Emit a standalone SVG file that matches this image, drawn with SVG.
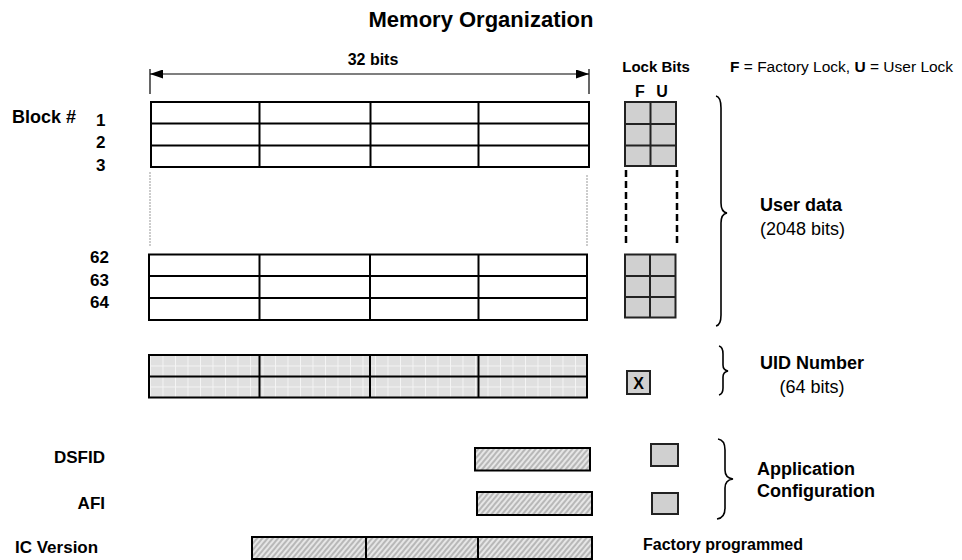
<svg xmlns="http://www.w3.org/2000/svg" width="962" height="560" viewBox="0 0 962 560">
<style>
text{font-family:"Liberation Sans",Arial,sans-serif;fill:#000}
.b{font-weight:bold}
.cell{fill:#fff;stroke:#000;stroke-width:2}
.uid{fill:url(#dots);stroke:#000;stroke-width:2}
.hat{fill:url(#hatch);stroke:#000;stroke-width:2}
.lock{fill:#d0d0d0;stroke:#222;stroke-width:2}
.brace{fill:none;stroke:#000;stroke-width:1.6}
.dot{stroke:#999;stroke-width:1;stroke-dasharray:2 1}
.dash{stroke:#000;stroke-width:2.5;stroke-dasharray:7 4}
</style>
<defs>
<pattern id="hatch" patternUnits="userSpaceOnUse" width="4" height="4" patternTransform="rotate(40)">
<rect width="4" height="4" fill="#b8b8b8"/>
<line x1="1" y1="0" x2="1" y2="4" stroke="#f2f2f2" stroke-width="1.6"/>
</pattern>
<pattern id="dots" patternUnits="userSpaceOnUse" width="12.5" height="10.5" x="150" y="355">
<rect width="12.5" height="10.5" fill="#e0e0e0"/>
<path d="M0 0.5H12.5M0.5 0V10.5" stroke="#f4f4f4" stroke-width="1"/>
</pattern>
<marker id="ah" viewBox="0 0 13 9" refX="13" refY="4.5" markerWidth="13" markerHeight="9" markerUnits="userSpaceOnUse" orient="auto-start-reverse">
<path d="M0 0L13 4.5L0 9Z" fill="#000"/>
</marker>
</defs>

<text x="481" y="27" text-anchor="middle" class="b" font-size="22">Memory Organization</text>

<g id="connectors">
<line x1="150" y1="74" x2="589" y2="74" stroke="#000" stroke-width="1.2" marker-start="url(#ah)" marker-end="url(#ah)"/>
<line x1="150" y1="69" x2="150" y2="94" stroke="#000" stroke-width="1.2"/>
<line x1="589" y1="69" x2="589" y2="94" stroke="#000" stroke-width="1.2"/>
<line class="dot" x1="150" y1="172" x2="150" y2="247"/>
<line class="dot" x1="587" y1="175" x2="587" y2="247"/>
<line class="dash" x1="626" y1="170" x2="626" y2="245"/>
<line class="dash" x1="677" y1="170" x2="677" y2="245"/>
</g>

<text x="373" y="65" text-anchor="middle" class="b" font-size="16">32 bits</text>

<g id="block-labels">
<text x="12" y="123" class="b" font-size="18">Block #</text>
<text x="96" y="126" class="b" font-size="17">1</text>
<text x="96" y="148" class="b" font-size="17">2</text>
<text x="96" y="171" class="b" font-size="17">3</text>
<text x="90" y="263" class="b" font-size="17">62</text>
<text x="90" y="286" class="b" font-size="17">63</text>
<text x="90" y="308" class="b" font-size="17">64</text>
</g>

<g id="user-blocks-top">
<rect class="cell" x="151" y="102" width="438" height="65"/>
<line x1="151" y1="123.5" x2="589" y2="123.5" stroke="#000" stroke-width="2"/>
<line x1="151" y1="145.5" x2="589" y2="145.5" stroke="#000" stroke-width="2"/>
<line x1="259.5" y1="102" x2="259.5" y2="167" stroke="#000" stroke-width="2"/>
<line x1="370.5" y1="102" x2="370.5" y2="167" stroke="#000" stroke-width="2"/>
<line x1="478.5" y1="102" x2="478.5" y2="167" stroke="#000" stroke-width="2"/>
</g>

<g id="user-blocks-bottom">
<rect class="cell" x="149" y="254.5" width="438" height="65.5"/>
<line x1="149" y1="276" x2="587" y2="276" stroke="#000" stroke-width="2"/>
<line x1="149" y1="298" x2="587" y2="298" stroke="#000" stroke-width="2"/>
<line x1="259.5" y1="254.5" x2="259.5" y2="320" stroke="#000" stroke-width="2"/>
<line x1="370" y1="254.5" x2="370" y2="320" stroke="#000" stroke-width="2"/>
<line x1="478.5" y1="254.5" x2="478.5" y2="320" stroke="#000" stroke-width="2"/>
</g>

<g id="uid-blocks">
<rect class="uid" x="149" y="355" width="438" height="42.5"/>
<line x1="149" y1="376.5" x2="587" y2="376.5" stroke="#000" stroke-width="2"/>
<line x1="259.5" y1="355" x2="259.5" y2="397.5" stroke="#000" stroke-width="2"/>
<line x1="370" y1="355" x2="370" y2="397.5" stroke="#000" stroke-width="2"/>
<line x1="478.5" y1="355" x2="478.5" y2="397.5" stroke="#000" stroke-width="2"/>
</g>

<g id="lock-header">
<text x="656" y="72" text-anchor="middle" class="b" font-size="15">Lock Bits</text>
<text x="640" y="97" text-anchor="middle" class="b" font-size="16">F</text>
<text x="662" y="97" text-anchor="middle" class="b" font-size="16">U</text>
<text x="730" y="72" font-size="15.5"><tspan class="b">F</tspan> = Factory Lock, <tspan class="b">U</tspan> = User Lock</text>
</g>

<g id="lock-top">
<rect class="lock" x="625" y="102" width="51" height="64"/>
<path d="M625 124H676M625 145.5H676M650.5 102V166" stroke="#222" stroke-width="2"/>
</g>
<g id="lock-bottom">
<rect class="lock" x="625" y="254.5" width="50.5" height="63"/>
<path d="M625 276H675.5M625 297H675.5M650 254.5V317.5" stroke="#222" stroke-width="2"/>
</g>
<g id="lock-uid">
<rect class="lock" x="627" y="371" width="23" height="23"/>
<text x="638.5" y="389" text-anchor="middle" class="b" font-size="16">X</text>
</g>

<g id="user-data-brace">
<path class="brace" d="M716 96Q721 97 721 108L721 203Q721 212 727 213Q721 214 721 223L721 315Q721 325 716 326"/>
<text x="760" y="211" class="b" font-size="18">User data</text>
<text x="760" y="235" font-size="18">(2048 bits)</text>
</g>

<g id="uid-brace">
<path class="brace" d="M719 346Q723 347 723 354L723 365Q723 370 728 371Q723 372 723 377L723 388Q723 394 719 395"/>
<text x="812" y="369" text-anchor="middle" class="b" font-size="18">UID Number</text>
<text x="812" y="393" text-anchor="middle" font-size="18">(64 bits)</text>
</g>

<g id="dsfid">
<text x="105" y="463" text-anchor="end" class="b" font-size="17">DSFID</text>
<rect class="hat" x="475" y="448" width="115" height="22.5"/>
<rect class="lock" x="651" y="444" width="27" height="22"/>
</g>

<g id="afi">
<text x="105" y="509" text-anchor="end" class="b" font-size="17">AFI</text>
<rect class="hat" x="477" y="492" width="115" height="23"/>
<rect class="lock" x="652" y="493" width="26" height="21"/>
</g>

<g id="app-brace">
<path class="brace" d="M718 439Q725 440 725 450L725 470Q725 478 733 479Q725 480 725 488L725 508Q725 518 717 519"/>
<text x="757" y="475" class="b" font-size="18">Application</text>
<text x="757" y="497" class="b" font-size="18">Configuration</text>
</g>

<g id="ic-version">
<text x="15" y="553" class="b" font-size="17">IC Version</text>
<rect class="hat" x="252" y="537" width="340" height="22"/>
<path d="M366 537V559M478 537V559" stroke="#000" stroke-width="2"/>
<text x="643" y="550" class="b" font-size="16">Factory programmed</text>
</g>
</svg>
